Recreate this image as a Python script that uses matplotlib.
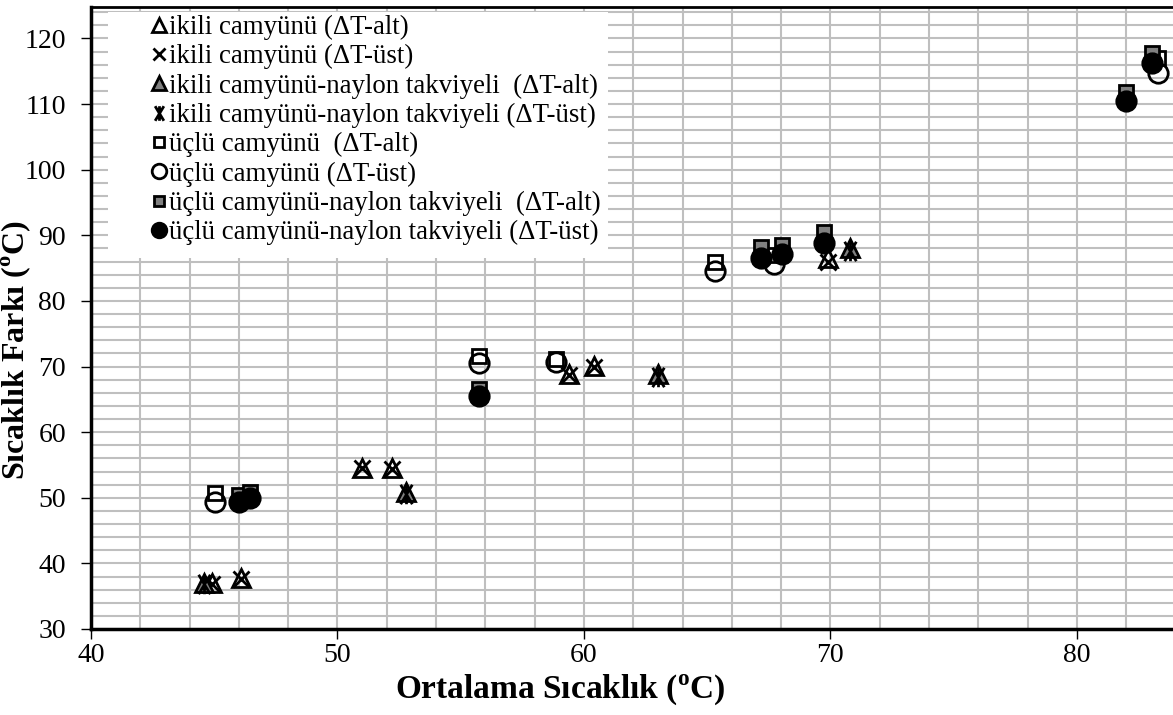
import numpy as np
import matplotlib
matplotlib.use('Agg')
import matplotlib.pyplot as plt
from matplotlib.path import Path
from matplotlib.patches import Rectangle
from matplotlib.ticker import MultipleLocator

plt.rcParams['font.family'] = ['Liberation Serif', 'DejaVu Serif']
plt.rcParams['mathtext.fontset'] = 'custom'
plt.rcParams['mathtext.rm'] = 'Liberation Serif'

# ikili camyunu
ikili_x = [44.9, 46.1, 51.0, 52.2, 59.4, 60.4, 69.9]
ikili_alt = [37.0, 37.7, 54.6, 54.5, 68.9, 70.1, 86.5]
ikili_ust = [36.9, 37.6, 54.5, 54.4, 68.7, 70.0, 85.9]

# ikili camyunu - naylon takviyeli
naylon_x = [44.6, 52.8, 63.0, 70.8]
naylon_alt = [37.0, 50.9, 68.9, 88.1]
naylon_ust = [36.9, 50.6, 68.4, 87.6]

# uclu camyunu
uclu_x = [45.05, 55.75, 58.85, 65.3, 67.7, 83.3]
uclu_alt = [50.8, 71.6, 71.2, 85.9, 87.0, 117.0]
uclu_ust = [49.4, 70.6, 70.7, 84.5, 85.7, 114.8]

# uclu camyunu - naylon takviyeli
uclu_n_x = [46.0, 46.45, 55.75, 67.2, 68.05, 69.75, 82.0, 83.05]
uclu_n_alt = [50.4, 50.9, 66.6, 88.2, 88.5, 90.5, 111.9, 117.8]
uclu_n_ust = [49.3, 49.9, 65.5, 86.6, 87.1, 88.9, 110.4, 116.2]

labels = ['ikili camyünü (ΔT-alt)',
          'ikili camyünü (ΔT-üst)',
          'ikili camyünü-naylon takviyeli  (ΔT-alt)',
          'ikili camyünü-naylon takviyeli (ΔT-üst)',
          'üçlü camyünü  (ΔT-alt)',
          'üçlü camyünü (ΔT-üst)',
          'üçlü camyünü-naylon takviyeli  (ΔT-alt)',
          'üçlü camyünü-naylon takviyeli (ΔT-üst)']

# yildiz isareti (X + dikey cizgi)
star = Path([(0, 1), (0, -1), (-0.6, 1), (0.6, -1), (0.6, 1), (-0.6, -1)],
            [Path.MOVETO, Path.LINETO, Path.MOVETO, Path.LINETO, Path.MOVETO, Path.LINETO])

fig = plt.figure(figsize=(11.73, 7.15), dpi=100)
ax = fig.add_axes([91 / 1173, 86 / 715, 1 - 91 / 1173, (708 - 86) / 715])

kw = dict(linestyle='none', markeredgecolor='black', markeredgewidth=2.0)
ax.plot(ikili_x, ikili_alt, marker='^', ms=13, markerfacecolor='none', label=labels[0], **kw)
ax.plot(ikili_x, ikili_ust, marker='x', ms=12, label=labels[1], **kw)
ax.plot(naylon_x, naylon_alt, marker='^', ms=13, markerfacecolor='#808080', label=labels[2], **kw)
ax.plot(naylon_x, naylon_ust, marker=star, ms=14, label=labels[3], **kw)
ax.plot(uclu_x, uclu_alt, marker='s', ms=10.5, markerfacecolor='white', label=labels[4], **kw)
ax.plot(uclu_x, uclu_ust, marker='o', ms=14, markerfacecolor='none', label=labels[5], **kw)
ax.plot(uclu_n_x, uclu_n_alt, marker='s', ms=10.5, markerfacecolor='#808080', label=labels[6], **kw)
ax.plot(uclu_n_x, uclu_n_ust, marker='o', ms=14, markerfacecolor='black', label=labels[7], **kw)

ax.set_xlim(40, 83.9)
ax.set_ylim(30, 124.8)
ax.xaxis.set_major_locator(MultipleLocator(10))
ax.xaxis.set_minor_locator(MultipleLocator(2))
ax.yaxis.set_major_locator(MultipleLocator(10))
ax.yaxis.set_minor_locator(MultipleLocator(2))
ax.grid(True, which='both', color='#bfbfbf', linewidth=1.5)
ax.set_axisbelow(True)
ax.tick_params(which='major', direction='out', length=7, width=1, labelsize=20)
ax.tick_params(axis='x', which='major', pad=3)
ax.tick_params(axis='y', which='major', pad=11)
ax.tick_params(which='minor', length=0)
ax.spines['left'].set_linewidth(2.5)
ax.spines['bottom'].set_linewidth(2.5)
ax.spines['top'].set_linewidth(2)
ax.spines['right'].set_visible(False)

ax.set_xlabel('Ortalama Sıcaklık ($^\\mathregular{o}$C)', fontsize=24, fontweight='bold')
ax.set_ylabel('Sıcaklık Farkı ($^\\mathregular{o}$C)', fontsize=23, fontweight='bold')
ax.xaxis.set_label_coords((560 - 91) / 1082, -(672 - 629) / 622)
ax.yaxis.set_label_coords(-(91 - 33) / 1082, (629 - 350) / 622)

# legend arka plani (beyaz kutu)
ax.add_patch(Rectangle((17 / 1082, 371 / 622), 500 / 1082, 246 / 622, transform=ax.transAxes,
                       facecolor='white', edgecolor='none', zorder=1))

leg = ax.legend(loc='upper left', bbox_to_anchor=(62 / 1082, 614 / 622), fontsize=19.4,
                frameon=False, markerscale=0.75,
                handlelength=0.45, handletextpad=0.15, labelspacing=0.155,
                borderpad=0, borderaxespad=0)

fig.savefig('out.png', dpi=100)
